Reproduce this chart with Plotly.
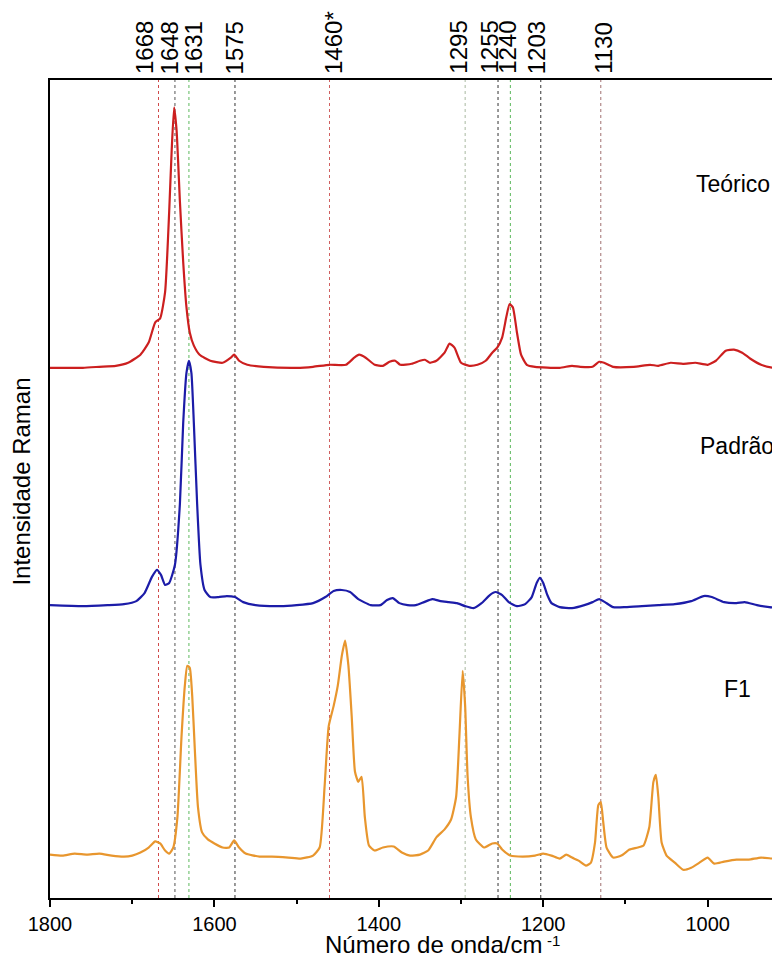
import plotly.graph_objects as go

# ---- data (wavenumber in cm-1, intensity in arbitrary units incl. stacking offset) ----
teorico_x = [1800,1760,1740,1720,1705,1690,1680,1672,1666,1660,1655,1652,1649,1646,1642,1638,1634,1630,1625,1618,1605,1590,1580,1576,1570,1560,1540,1500,1480,1460,1440,1430,1424,1416,1405,1395,1387,1380,1374,1360,1350,1344,1338,1330,1320,1314,1308,1300,1290,1280,1270,1262,1256,1250,1245,1241,1237,1232,1227,1220,1210,1180,1165,1155,1140,1132,1126,1115,1090,1070,1060,1045,1030,1015,1000,990,978,968,958,948,935,920,912]
teorico_y = [525,525,526,527,530,538,550,570,574,600,680,740,783,760,690,630,585,560,547,538,532,530,535,538,532,528,526,525,526,528,528,535,538,535,528,527,531,532,528,529,532,533,530,532,540,549,545,530,527,528,532,540,545,555,575,588,585,560,538,528,526,525,527,526,526,531,530,526,526,528,527,530,529,530,528,532,542,543,540,534,528,525,525]

padrao_x = [1800,1760,1730,1710,1695,1685,1676,1670,1665,1660,1655,1648,1642,1638,1634,1631,1628,1625,1621,1617,1612,1605,1595,1585,1575,1565,1550,1520,1500,1480,1465,1455,1445,1435,1425,1410,1398,1390,1383,1375,1365,1355,1345,1335,1325,1315,1305,1295,1285,1275,1265,1258,1250,1242,1232,1222,1214,1208,1204,1200,1195,1190,1180,1165,1150,1140,1132,1125,1115,1100,1080,1060,1040,1020,1005,995,980,965,955,940,925,912]
padrao_y = [290,289,290,291,294,302,318,325,320,310,312,330,390,470,520,532,520,470,390,330,305,298,298,299,298,293,290,289,290,292,298,304,305,303,296,290,290,295,297,292,290,290,293,296,294,293,292,289,287,292,300,303,300,293,289,291,298,312,317,312,300,292,288,287,290,293,296,293,288,288,289,290,291,294,299,298,293,292,293,290,288,287]

f1_x = [1800,1785,1770,1755,1740,1725,1710,1700,1690,1680,1672,1666,1660,1655,1650,1645,1640,1636,1633,1630,1627,1624,1620,1615,1608,1600,1590,1582,1576,1570,1562,1545,1530,1510,1495,1480,1472,1466,1461,1455,1450,1445,1441,1437,1433,1429,1425,1421,1417,1412,1405,1395,1382,1372,1362,1350,1340,1330,1320,1312,1306,1302,1298,1295,1292,1288,1282,1272,1262,1256,1250,1240,1225,1210,1200,1190,1180,1172,1165,1157,1148,1142,1137,1133,1130,1127,1123,1115,1105,1095,1085,1078,1071,1066,1063,1060,1056,1050,1040,1030,1020,1010,1000,992,980,965,950,935,920,912]
f1_y = [43,42,44,43,44,42,41,42,45,50,56,54,47,44,50,80,160,210,230,228,200,150,90,65,58,54,50,50,57,50,44,41,41,40,39,42,50,110,170,190,210,240,255,230,180,125,115,120,80,52,47,50,51,45,42,43,47,60,68,78,100,160,225,190,120,80,58,50,54,54,48,42,41,42,44,42,39,43,40,37,32,35,55,92,95,75,50,40,42,48,50,52,70,115,122,100,55,42,35,28,30,35,40,34,36,38,38,40,39,39]

marker_pos = [1668, 1648, 1631, 1575, 1460, 1295, 1255, 1240, 1203, 1130]
marker_labels = ["1668", "1648", "1631", "1575", "1460*", "1295", "1255", "1240", "1203", "1130"]
marker_colors = ["#d04a4a", "#555555", "#5cb85c", "#333333", "#d06060", "#a8b8a0", "#333333", "#5cb85c", "#333333", "#a07070"]
label_xshift = [-14, -5, 5, 0, 4, -7, -9, -3, -4, 2]

series_names = ["Teórico", "Padrão", "F1"]
series_colors = ["#cc1f1f", "#1c1ca8", "#e8962e"]

x_ticks = [1800, 1600, 1400, 1200, 1000]

FONT = "Liberation Sans, Arial, sans-serif"

fig = go.Figure()
for xs, ys, name, col in [(teorico_x, teorico_y, series_names[0], series_colors[0]),
                          (padrao_x, padrao_y, series_names[1], series_colors[1]),
                          (f1_x, f1_y, series_names[2], series_colors[2])]:
    fig.add_trace(go.Scatter(x=xs, y=ys, mode="lines", name=name,
                             line=dict(color=col, width=2.2, shape="spline", smoothing=0.5),
                             showlegend=False))

for pos, lab, col, sh in zip(marker_pos, marker_labels, marker_colors, label_xshift):
    fig.add_shape(type="line", xref="x", yref="paper", x0=pos, x1=pos, y0=0, y1=1,
                  line=dict(color=col, width=1, dash="dot"), layer="below")
    fig.add_annotation(x=pos, xref="x", y=1, yref="paper", yshift=4, xshift=sh, text=lab,
                       textangle=-90, showarrow=False, xanchor="center", yanchor="bottom",
                       font=dict(family=FONT, size=24, color="black"))

label_pos = [(0.8822, 0.873), (0.8875, 0.553), (0.921, 0.2556)]
for name, (lx, ly) in zip(series_names, label_pos):
    fig.add_annotation(x=lx, y=ly, xref="paper", yref="paper", text=name, showarrow=False,
                       xanchor="left", yanchor="middle",
                       font=dict(family=FONT, size=23, color="black"))

fig.add_annotation(x=-0.0384, y=0.509, xref="paper", yref="paper", text="Intensidade Raman",
                   textangle=-90, showarrow=False, xanchor="center", yanchor="middle",
                   font=dict(family=FONT, size=24, color="black"))
# x-axis title with superscript drawn as a separate small text
fig.add_annotation(x=0.6767, y=0, yshift=-62, xref="paper", yref="paper",
                   text="Número de onda/cm", showarrow=False,
                   xanchor="right", yanchor="bottom",
                   font=dict(family=FONT, size=24, color="black"))
fig.add_annotation(x=0.6775, y=0, yshift=-32, xref="paper", yref="paper",
                   text="-1", showarrow=False,
                   xanchor="left", yanchor="top",
                   font=dict(family=FONT, size=15, color="black"))

# the page body has an 8px default margin, so the figure is sized to end at the window edge
fig.update_layout(
    width=772, height=948,
    margin=dict(l=42, r=0, t=72, b=58),
    paper_bgcolor="white", plot_bgcolor="white",
    font=dict(family=FONT, size=20, color="black"),
    xaxis=dict(range=[1800, 912], tickvals=x_ticks, ticktext=[str(v) for v in x_ticks],
               showline=True, linecolor="black", linewidth=2, mirror=True,
               ticks="outside", ticklen=7, tickwidth=2, tickcolor="black",
               minor=dict(tickvals=[1700, 1500, 1300, 1100], ticks="outside", ticklen=4,
                          tickwidth=2, tickcolor="black"),
               showgrid=False, zeroline=False, tickfont=dict(size=20, family=FONT)),
    yaxis=dict(range=[0, 810], showline=True, linecolor="black", linewidth=2, mirror=False,
               showticklabels=False, ticks="", showgrid=False, zeroline=False),
)

fig.write_html("out.html")
